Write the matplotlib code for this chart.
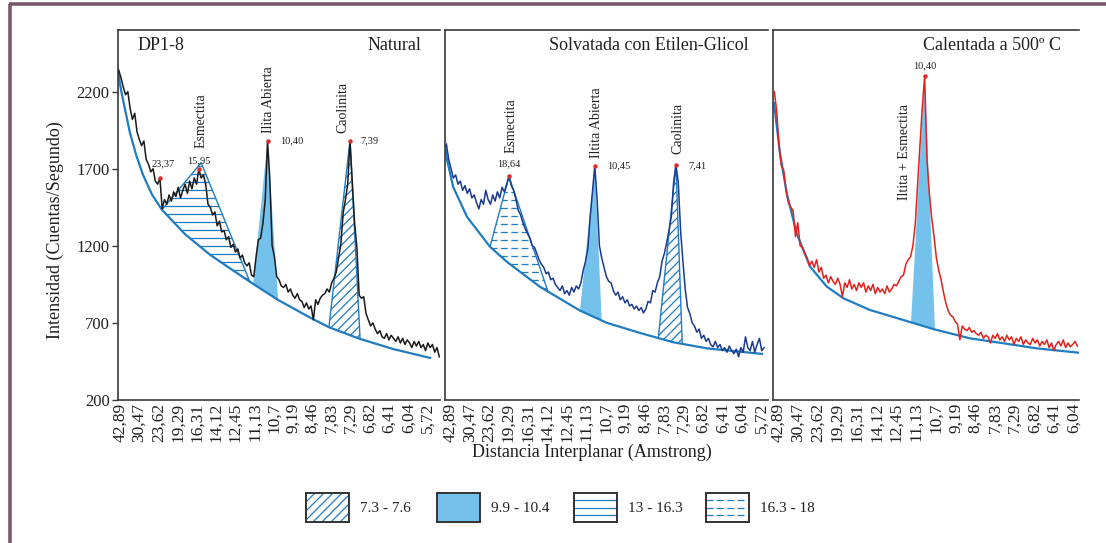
import numpy as np
import matplotlib
matplotlib.use('Agg')
import matplotlib.pyplot as plt
from matplotlib.patches import Polygon, Rectangle

plt.rcParams['font.family'] = ['Liberation Serif', 'DejaVu Serif']

# ---------------- data ----------------
tick_labels = ['42,89', '30,47', '23,62', '19,29', '16,31', '14,12', '12,45', '11,13', '10,7',
               '9,19', '8,46', '7,83', '7,29', '6,82', '6,41', '6,04', '5,72']
tick_2theta = [2.06, 2.90, 3.74, 4.58, 5.42, 6.26, 7.10, 7.94, 8.78, 9.62, 10.46, 11.30,
               12.14, 12.98, 13.82, 14.66, 15.50]
y_ticks = [200, 700, 1200, 1700, 2200]

# Panel 1 - Natural (2theta from 2.0, step 0.1)
nat_start = 2.0
nat_counts = [2340, 2290, 2230, 2180, 2200, 2090, 2020, 2060, 1940, 1890,
              1850, 1880, 1760, 1730, 1680, 1700, 1620, 1600, 1640, 1440,
              1500, 1470, 1530, 1490, 1550, 1520, 1580, 1510, 1560, 1600,
              1540, 1620, 1570, 1640, 1600, 1700, 1640, 1660, 1600, 1470,
              1450, 1400, 1420, 1330, 1360, 1290, 1300, 1240, 1260, 1190,
              1210, 1160, 1180, 1120, 1140, 1090, 1070, 1090, 1010, 1000,
              1130, 1240, 1250, 1350, 1500, 1882, 1630, 1200, 1130, 1000,
              980, 940, 930, 950, 900, 920, 880, 860, 890, 850,
              840, 800, 830, 790, 810, 720, 850, 820, 860, 880,
              890, 920, 900, 960, 990, 1030, 1120, 1210, 1410, 1500,
              1600, 1882, 1620, 1350, 1190, 880, 860, 870, 760, 720,
              680, 700, 660, 630, 650, 610, 600, 630, 590, 620,
              600, 580, 610, 570, 600, 560, 590, 570, 540, 580,
              550, 580, 540, 560, 520, 570, 540, 560, 510, 540, 480]
nat_base_x = [1.97, 2.10, 2.28, 2.49, 2.76, 3.06, 3.46, 3.89, 4.9, 5.99, 7.0, 7.8, 8.96,
              10.35, 11.18, 12.54, 14.0, 15.6]
nat_base_y = [2330, 2213, 2083, 1934, 1791, 1661, 1531, 1434, 1275, 1142, 1040, 960, 849,
              735, 672, 596, 530, 473]
nat_peak_x = [3.8, 5.5, 8.5, 12.1]
nat_peak_y = [1640, 1700, 1882, 1882]
nat_regions = [(3.89, 5.6, 1739, 7.73, 'h'),
               (7.87, 8.5, 1882, 8.96, 'fill'),
               (11.18, 12.1, 1882, 12.54, 'diag')]

# Panel 2 - Solvatada con Etilen-Glicol (2theta from 1.9, step 0.1)
eg_start = 1.9
eg_counts = [1860, 1760, 1700, 1640, 1660, 1600, 1620, 1560, 1590, 1540,
             1570, 1510, 1530, 1480, 1440, 1500, 1470, 1560, 1500, 1470,
             1530, 1490, 1550, 1510, 1580, 1550, 1600, 1650, 1590, 1560,
             1500, 1430, 1400, 1350, 1310, 1280, 1250, 1200, 1190, 1150,
             1110, 1080, 1060, 1020, 1030, 980, 990, 950, 930, 910,
             940, 890, 910, 880, 930, 900, 940, 920, 960, 1040,
             1100, 1180, 1390, 1550, 1721, 1499, 1200, 1120, 1060, 1000,
             970, 960, 910, 880, 900, 850, 870, 830, 850, 810,
             820, 790, 810, 780, 800, 765, 790, 840, 830, 910,
             900, 960, 1000, 1100, 1150, 1220, 1300, 1390, 1610, 1726,
             1610, 1300, 1100, 920, 800, 760, 700, 680, 640, 660,
             600, 620, 580, 600, 560, 545, 580, 540, 560, 520,
             540, 510, 550, 520, 500, 530, 480, 540, 510, 610,
             540, 520, 580, 510, 560, 600, 520, 540]
eg_base_x = [1.84, 1.93, 2.19, 2.79, 3.78, 4.52, 5.94, 7.66, 8.83, 10.25, 11.67, 13.14, 15.51]
eg_base_y = [1850, 1758, 1583, 1388, 1194, 1095, 934, 780, 700, 635, 575, 535, 499]
eg_peak_x = [4.6, 8.3, 11.8]
eg_peak_y = [1650, 1721, 1726]
eg_regions = [(3.78, 4.6, 1650, 6.28, 'dash'),
              (7.66, 8.3, 1721, 8.60, 'fill'),
              (11.04, 11.8, 1726, 12.07, 'diag')]

# Panel 3 - Calentada a 500 C (2theta from 1.9, step 0.1)
ht_start = 1.9
ht_counts = [2200, 2080, 1850, 1720, 1690, 1560, 1480, 1450, 1430, 1260,
             1350, 1200, 1190, 1150, 1120, 1070, 1100, 1060, 1110, 1030,
             1060, 990, 1010, 960, 1000, 970, 950, 990, 950, 870,
             960, 930, 980, 920, 950, 910, 960, 930, 960, 900,
             940, 910, 950, 890, 930, 900, 920, 890, 940, 900,
             920, 950, 940, 970, 1000, 1010, 1080, 1110, 1130, 1200,
             1340, 1600, 1850, 2100, 2299, 1760, 1540, 1380, 1260, 1120,
             1040, 980, 900, 830, 780, 750, 740, 710, 690, 590,
             680, 660, 650, 670, 640, 650, 630, 620, 640, 600,
             620, 610, 570, 620, 600, 630, 590, 610, 580, 620,
             590, 610, 560, 600, 580, 610, 560, 590, 570, 560,
             600, 570, 590, 550, 580, 560, 590, 540, 570, 520,
             560, 580, 550, 590, 540, 570, 545, 560, 580, 550]
ht_base_x = [1.89, 2.14, 2.43, 2.85, 3.42, 4.13, 4.84, 5.97, 7.39, 8.67, 10.23, 11.65, 13.07, 14.84]
ht_base_y = [2126, 1802, 1542, 1282, 1066, 936, 860, 784, 719, 660, 600, 568, 535, 507]
ht_peak_x = [8.3]
ht_peak_y = [2299]
ht_regions = [(7.72, 8.3, 2299, 8.74, 'fill')]

legend_labels = ['7.3 - 7.6', '9.9 - 10.4', '13 - 16.3', '16.3 - 18']

# ---------------- style ----------------
W, H = 1106, 543
BLUE = '#1f7cc1'
LIGHT = '#74c2ec'
TXT = '#231f20'
SPINE = '#3a3a3a'
FRAME = '#7b5a6c'
YLIM = (200, 2600)

fig = plt.figure(figsize=(W / 100, H / 100), dpi=100)


def px_axes(l, t, r, b):
    return fig.add_axes([l / W, 1 - b / H, (r - l) / W, (b - t) / H])


panels = [
    dict(box=(118, 30, 440, 400), xlim=(1.97, 16.03), start=nat_start, counts=nat_counts,
         bx=nat_base_x, by=nat_base_y, px=nat_peak_x, py=nat_peak_y, regions=nat_regions,
         color='#1a1a1a', nt=17, yt=True),
    dict(box=(445, 30, 768, 400), xlim=(1.84, 15.77), start=eg_start, counts=eg_counts,
         bx=eg_base_x, by=eg_base_y, px=eg_peak_x, py=eg_peak_y, regions=eg_regions,
         color='#1b3a8c', nt=17, yt=False),
    dict(box=(773, 30, 1079, 400), xlim=(1.845, 14.87), start=ht_start, counts=ht_counts,
         bx=ht_base_x, by=ht_base_y, px=ht_peak_x, py=ht_peak_y, regions=ht_regions,
         color='#e3211c', nt=16, yt=False),
]

for p in panels:
    l, t, r, b = p['box']
    ax = px_axes(l, t, r, b)
    ax.set_xlim(*p['xlim'])
    ax.set_ylim(*YLIM)
    kx = (r - l) / (p['xlim'][1] - p['xlim'][0])
    ky = (b - t) / (YLIM[1] - YLIM[0])
    for s in ['left', 'top', 'bottom']:
        ax.spines[s].set_color(SPINE)
        ax.spines[s].set_linewidth(1.2)
    ax.spines['right'].set_visible(False)
    ax.set_xticks(tick_2theta[:p['nt']])
    ax.set_xticklabels(tick_labels[:p['nt']], rotation=90, fontsize=12.5, color=TXT)
    ax.tick_params(axis='x', length=0, pad=2)
    if p['yt']:
        ax.set_yticks(y_ticks)
        ax.set_yticklabels([str(v) for v in y_ticks], fontsize=12, color=TXT)
        ax.tick_params(axis='y', length=4.5, width=1, color=SPINE, pad=1.5)
    else:
        ax.set_yticks([])

    bx, by = p['bx'], p['by']
    for (lb, axp, ayp, rb, kind) in p['regions']:
        xs = np.linspace(lb, rb, 40)
        ys = np.interp(xs, bx, by)
        pts = [(lb, ys[0]), (axp, ayp), (rb, ys[-1])] + list(zip(xs[::-1], ys[::-1]))
        if kind == 'fill':
            poly = Polygon(pts, closed=True, facecolor=LIGHT, edgecolor='none', zorder=1)
            ax.add_patch(poly)
            continue
        poly = Polygon(pts, closed=True, facecolor='none', edgecolor='none', zorder=1)
        ax.add_patch(poly)
        y0, y1 = min(ys), ayp
        if kind in ('h', 'dash'):
            ls = '-' if kind == 'h' else (0, (5.5, 2.8))
            for lvl in np.arange(y0 + 4 / ky, y1, 8 / ky):
                ln, = ax.plot([lb, rb], [lvl, lvl], color=BLUE, lw=0.9, ls=ls, zorder=1)
                ln.set_clip_path(poly)
        else:
            slope = kx / ky
            span = (y1 - y0) / slope
            for c in np.arange(lb - span, rb, 9 / kx):
                ln, = ax.plot([c, c + span], [y0, y1], color=BLUE, lw=0.9, zorder=1)
                ln.set_clip_path(poly)
        ax.plot([lb, axp, rb], [ys[0], ayp, ys[-1]], color=BLUE, lw=1.0, zorder=2)

    ax.plot(bx, by, color=BLUE, lw=1.6, zorder=2, solid_joinstyle='round')
    xs = p['start'] + 0.1 * np.arange(len(p['counts']))
    ax.plot(xs, p['counts'], color=p['color'], lw=1.1, zorder=3, solid_joinstyle='round')
    ax.plot(p['px'], p['py'], 'o', color='#e3262a', ms=3.2, mec='none', zorder=4)

# ---------------- overlay (pixel coordinates) ----------------
ov = fig.add_axes([0, 0, 1, 1], zorder=10)
ov.set_xlim(0, W)
ov.set_ylim(H, 0)
ov.axis('off')

ov.plot([10, 10], [4, H], color=FRAME, lw=2.6, solid_capstyle='butt')
ov.plot([9, W], [4, 4], color=FRAME, lw=2.6, solid_capstyle='butt')

# titles
ov.text(138, 46, 'DP1-8', fontsize=13, color=TXT, ha='left', va='center')
ov.text(421, 46, 'Natural', fontsize=13, color=TXT, ha='right', va='center')
ov.text(749, 46, 'Solvatada con Etilen-Glicol', fontsize=13, color=TXT, ha='right', va='center')
ov.text(1061, 46, 'Calentada a 500º C', fontsize=13, color=TXT, ha='right', va='center')

# mineral labels
for s, x, y in [('Esmectita', 201, 148), ('Ilita Abierta', 269, 133), ('Caolinita', 343, 133),
                ('Esmectita', 511, 153), ('Iltita Abierta', 597, 158), ('Caolinita', 678, 154),
                ('Iltita + Esmectita', 905, 200)]:
    ov.text(x, y, s, rotation=90, fontsize=10, color=TXT, ha='center', va='bottom')

# peak value labels
for s, x, y, ha in [('23,37', 163, 164, 'center'), ('15,95', 199, 161, 'center'),
                    ('10,40', 280, 141, 'left'), ('7,39', 360, 141, 'left'),
                    ('18,64', 509, 164, 'center'), ('10,45', 607, 166, 'left'),
                    ('7,41', 688, 166, 'left'), ('10,40', 925, 66, 'center')]:
    ov.text(x, y, s, fontsize=7.5, color=TXT, ha=ha, va='center')

ov.text(55, 230, 'Intensidad (Cuentas/Segundo)', rotation=90, fontsize=13, color=TXT,
        ha='center', va='center')
ov.text(592, 452, 'Distancia Interplanar (Amstrong)', fontsize=13, color=TXT,
        ha='center', va='center')

# legend
boxes = [(306, 'diag'), (437, 'fill'), (574, 'h'), (706, 'dash')]
for (bx0, kind), lab in zip(boxes, legend_labels):
    bw, top, bot = 43, 493, 522
    rect = Rectangle((bx0, top), bw, bot - top, facecolor=LIGHT if kind == 'fill' else 'white',
                     edgecolor='none', zorder=1)
    ov.add_patch(rect)
    if kind == 'diag':
        for c in np.arange(bx0 - 29, bx0 + bw, 9):
            ln, = ov.plot([c, c + 29], [bot, top], color=BLUE, lw=0.9, zorder=2)
            ln.set_clip_path(rect)
    elif kind in ('h', 'dash'):
        ls = '-' if kind == 'h' else (0, (5.5, 2.8))
        for yy in (500, 508, 515):
            ov.plot([bx0, bx0 + bw], [yy, yy], color=BLUE, lw=0.9, ls=ls, zorder=2)
    ov.add_patch(Rectangle((bx0, top), bw, bot - top, facecolor='none', edgecolor='#333333',
                           lw=1.4, zorder=3))
    ov.text(bx0 + 54, 508, lab, fontsize=11, color=TXT, ha='left', va='center')

fig.savefig('out.png', dpi=100)
